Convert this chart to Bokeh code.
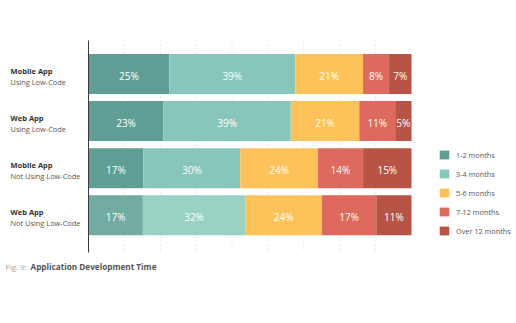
import numpy as np
from bokeh.plotting import figure
from bokeh.models import ColumnDataSource, Range1d, Legend, LegendItem, Label
from bokeh.core.properties import value
from bokeh.embed import file_html
from bokeh.resources import INLINE

# ---- data ----
categories_bold = ["Mobile App", "Web App", "Mobile App", "Web App"]
categories_sub = ["Using Low-Code", "Using Low-Code", "Not Using Low-Code", "Not Using Low-Code"]
series = ["1-2 months", "3-4 months", "5-6 months", "7-12 months", "Over 12 months"]
m1_2 = [25, 23, 17, 17]
m3_4 = [39, 39, 30, 32]
m5_6 = [21, 21, 24, 24]
m7_12 = [8, 11, 14, 17]
m12p = [7, 5, 15, 11]
grid_steps = 9  # dotted guide lines every 1/9 of the scale
caption_prefix = "Fig. 9:"
caption_title = "Application Development Time"

# ---- style ----
colors = ["#5f9e94", "#87c6ba", "#fdc35a", "#de6a5f", "#b75446"]
row4_colors = ["#72aba1", "#9ad1c5", "#fdc35a", "#de6a5f", "#b75446"]
FONT = "Open Sans"

W, H = 516, 323
# plot area in canvas pixels
PL, PR, PT, PB = 88, 411, 40, 252
y_top_cat, y_bot_cat = -0.71, 3.79

px_per_x = (PR - PL) / 100.0
px_per_y = (PB - PT) / (y_bot_cat - y_top_cat)

def dx(px):
    return (px - PL) / px_per_x

def dy(py):
    return y_top_cat + (py - PT) / px_per_y

vals = np.array([m1_2, m3_4, m5_6, m7_12, m12p], dtype=float)  # series x rows
norm = vals / vals.sum(axis=0) * 100.0
rights = np.cumsum(norm, axis=0)
lefts = rights - norm
ys = np.arange(len(categories_bold))

p = figure(width=W, height=H, output_backend="svg", toolbar_location=None,
           x_range=Range1d(dx(0), dx(W)), y_range=Range1d(dy(H), dy(0)),
           x_axis_location=None, y_axis_location=None,
           min_border=0)
p.outline_line_color = None
p.background_fill_color = "white"
p.border_fill_color = "white"
p.xgrid.visible = False
p.ygrid.visible = False

# dotted vertical guides
gx = [100.0 / grid_steps * k for k in range(1, grid_steps)]
p.segment(x0=gx, y0=[dy(PT)] * len(gx), x1=gx, y1=[dy(PB)] * len(gx),
          line_color="#cfcfcf", line_dash="1 3", line_width=1)

items = []
for k, name in enumerate(series):
    fills = [colors[k]] * (len(ys) - 1) + [row4_colors[k]]
    src = ColumnDataSource(dict(y=ys, left=lefts[k], right=rights[k], color=fills,
                                cx=(lefts[k] + rights[k]) / 2,
                                lab=[f"{int(v)}%" for v in vals[k]]))
    r = p.hbar(y="y", left="left", right="right", height=0.85, fill_color="color",
               line_color=None, source=src)
    items.append(LegendItem(label=name, renderers=[r]))
    p.text(x="cx", y="y", text="lab", source=src, text_color="white",
           text_font=value(FONT), text_font_size="10px", text_align="center",
           text_baseline="middle", y_offset=2)

# y axis line
p.segment(x0=[0], y0=[dy(PT)], x1=[0], y1=[dy(PB)], line_color="#3a3a3a", line_width=1)

legend = Legend(items=items, location=(438, H - 236), orientation="vertical",
                glyph_width=12, glyph_height=11, label_height=11, spacing=8,
                padding=0, margin=0, label_standoff=6,
                label_text_font=FONT, label_text_font_size="7.3px",
                label_text_color="#555555",
                border_line_color=None, background_fill_alpha=0)
p.add_layout(legend, "center")

for i in range(len(categories_bold)):
    p.add_layout(Label(x=dx(10), y=i - 3 / px_per_y, text=categories_bold[i],
                       text_font=FONT, text_font_size="7.5px", text_font_style="bold",
                       text_color="#333333", text_baseline="middle", text_align="left"))
    p.add_layout(Label(x=dx(10), y=i + 8 / px_per_y, text=categories_sub[i],
                       text_font=FONT, text_font_size="7.4px",
                       text_color="#555555", text_baseline="middle", text_align="left"))

p.add_layout(Label(x=dx(5), y=dy(266), text=caption_prefix, text_font=FONT,
                   text_font_size="8px", text_color="#a0a0a0",
                   text_baseline="middle", text_align="left"))
p.add_layout(Label(x=dx(30), y=dy(266), text=caption_title, text_font=FONT,
                   text_font_size="8.2px", text_font_style="bold", text_color="#555555",
                   text_baseline="middle", text_align="left"))

open("out.html", "w").write(file_html(p, INLINE))
